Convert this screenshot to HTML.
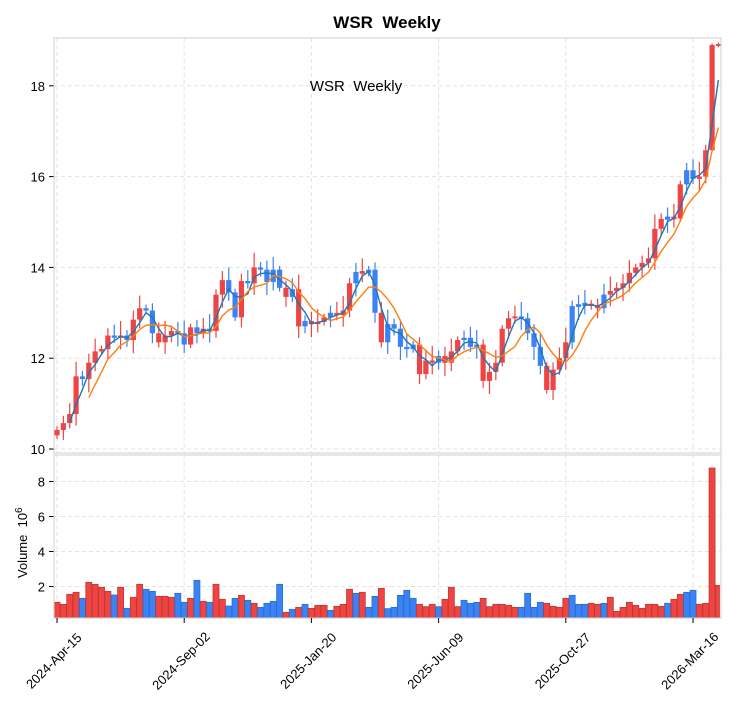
<!DOCTYPE html>
<html><head><meta charset="utf-8">
<style>
html,body{margin:0;padding:0;background:#fff;}
svg text{font-family:"Liberation Sans",sans-serif;white-space:pre;}
</style></head><body>
<svg id="s" width="741" height="712" xmlns="http://www.w3.org/2000/svg">
<rect width="741" height="712" fill="#fff"/>
<text x="387" y="28" font-size="17" font-weight="bold" text-anchor="middle" fill="#000">WSR&#160;&#160;Weekly</text>
<g id="g"></g>
<text x="356" y="91" font-size="15" text-anchor="middle" fill="#000">WSR&#160;&#160;Weekly</text>
</svg>
<script>
var C=[10.42,10.57,10.77,11.6,11.54,11.9,12.15,12.2,12.5,12.45,12.5,12.4,12.85,13.1,13.05,12.55,12.35,12.5,12.6,12.55,12.3,12.68,12.55,12.65,12.6,13.4,13.72,13.45,12.9,13.7,13.65,14.0,13.95,13.68,13.95,13.55,13.35,13.52,12.7,12.82,12.75,12.8,12.9,13.0,12.95,13.05,13.65,13.9,13.88,13.95,13.0,12.35,12.75,12.65,12.25,12.2,12.3,11.65,11.95,11.9,12.05,11.9,12.15,12.4,12.45,12.25,12.3,11.5,11.7,11.9,12.65,12.88,12.92,12.88,12.55,12.25,11.83,11.3,11.75,12.0,12.35,13.15,13.17,13.2,13.15,13.1,13.4,13.48,13.55,13.65,13.88,14.0,14.1,14.2,14.85,15.07,15.1,15.08,15.83,16.14,15.95,16.0,16.58,18.9,18.9];
var COL="RRRRBRRRRBRBRRBBRRRBBRBRBRRBBRBRBBBBRBRBRRRBRRRBRBBRBBBBBRRRBRRRBBBRRRRRRBBBBRRRRBBBRRBRRRRRRRRRBRRBBRRRRR";
var VZ=[97,103,73,67,85,37,43,52,64,75,52,115,82,43,58,64,79,79,82,70,97,85,31,94,97,43,88,108,85,76,91,100,112,100,94,43,127,118,112,103,115,106,106,121,109,103,58,70,67,112,79,55,116,112,76,61,85,103,110,103,110,88,52,110,91,100,97,85,110,103,103,106,112,112,70,112,97,100,109,112,85,76,103,103,100,103,100,82,124,112,97,106,115,103,103,109,100,88,73,67,61,103,100,-306,46];
var N=C.length,out=[];
COL=COL.slice(0,N-1)+"R";
function X(i){return 57+6.36*i;}
function Y(p){return 449-(p-10)*45.4;}
function VY(m){return 621.5-m*17.5;}
var xt=[0,20,40,60,80,100],lab=["2024-Apr-15","2024-Sep-02","2025-Jan-20","2025-Jun-09","2025-Oct-27","2026-Mar-16"];
xt.forEach(function(i){var x=X(i);out.push('<line x1="'+x+'" y1="38" x2="'+x+'" y2="453" stroke="#e3e3e3" stroke-dasharray="4,3"/>');out.push('<line x1="'+x+'" y1="455" x2="'+x+'" y2="618" stroke="#e3e3e3" stroke-dasharray="4,3"/>');});
[10,12,14,16,18].forEach(function(p){var y=Y(p);out.push('<line x1="54" y1="'+y+'" x2="721" y2="'+y+'" stroke="#e3e3e3" stroke-dasharray="4,3"/>');out.push('<line x1="49" y1="'+y+'" x2="54" y2="'+y+'" stroke="#000"/>');out.push('<text x="45" y="'+(y+5)+'" font-size="13" text-anchor="end">'+p+'</text>');});
[2,4,6,8].forEach(function(m){var y=VY(m);out.push('<line x1="54" y1="'+y+'" x2="721" y2="'+y+'" stroke="#e3e3e3" stroke-dasharray="4,3"/>');out.push('<line x1="49" y1="'+y+'" x2="54" y2="'+y+'" stroke="#000"/>');out.push('<text x="45" y="'+(y+5)+'" font-size="13" text-anchor="end">'+m+'</text>');});
var RED="#ef4444",BLU="#3b82f6",RD="#c0392b",BD="#2a6fc9";
for(var i=0;i<N;i++){var o=i?C[i-1]:C[0]-0.12,c=C[i];var hi=Math.max(o,c),lo=Math.min(o,c);if(hi-lo<0.03){hi+=0.02;lo-=0.02;}
var col=COL[i]=="R"?RED:BLU,x=X(i);
var wh=hi+0.08+((i*37)%7)*0.04,wl=lo-0.08-((i*53)%7)*0.035;
if(i>=103){wh=hi+0.03;wl=lo-0.03;}
out.push('<line x1="'+x+'" y1="'+Y(wh)+'" x2="'+x+'" y2="'+Y(wl)+'" stroke="'+col+'" stroke-width="1.2"/>');
out.push('<rect x="'+(x-2.6)+'" y="'+Y(hi)+'" width="5.2" height="'+Math.max(1.5,Y(lo)-Y(hi))+'" fill="'+col+'"/>');}
function ma(n,col){var pts=[];for(var i=n-1;i<N;i++){var s=0;for(var k=0;k<n;k++)s+=C[i-k];pts.push(X(i).toFixed(1)+','+Y(s/n).toFixed(1));}out.push('<polyline points="'+pts.join(' ')+'" fill="none" stroke="'+col+'" stroke-width="1.4"/>');}
ma(3,"#1f77b4");ma(6,"#ff7f0e");
for(var i=0;i<N;i++){var y=570+VZ[i]/3;var col=COL[i]=="R";var w=(i==N-1)?4:6;out.push('<rect x="'+(X(i)-3)+'" y="'+y+'" width="'+w+'" height="'+(618-y)+'" fill="'+(col?RED:BLU)+'" stroke="'+(col?RD:BD)+'" stroke-width="0.8"/>');}
out.push('<rect x="54" y="38" width="667" height="415" fill="none" stroke="#cfcfcf"/>');
out.push('<rect x="54" y="455" width="667" height="163" fill="none" stroke="#cfcfcf"/>');
xt.forEach(function(i,k){var x=X(i);out.push('<line x1="'+x+'" y1="618" x2="'+x+'" y2="623" stroke="#000"/>');out.push('<text transform="translate('+(x)+',664) rotate(-45)" font-size="13" text-anchor="middle">'+lab[k]+'</text>');});
out.push('<text transform="translate(27,578) rotate(-90)" font-size="13">Volume&#160;&#160;10<tspan dy="-5" font-size="10">6</tspan></text>');
document.getElementById("g").innerHTML=out.join("");
</script>
</body></html>
